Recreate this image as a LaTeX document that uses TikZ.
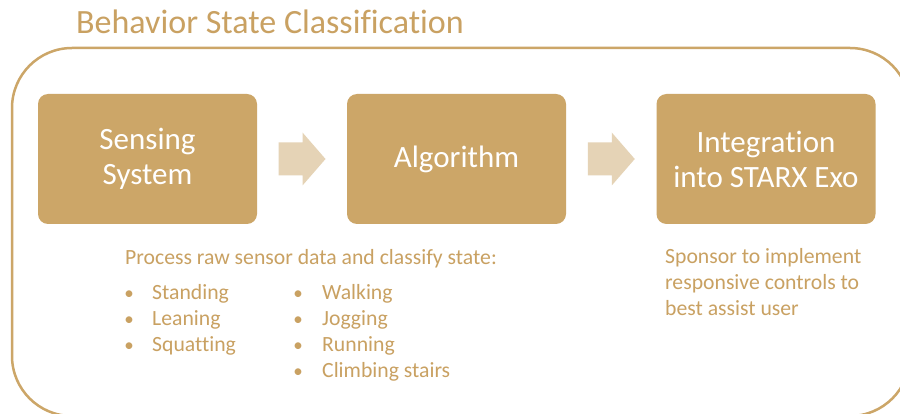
\documentclass[tikz,border=0pt]{standalone}
\usepackage{fontspec}
\setmainfont{Carlito}[Ligatures=NoCommon]
\usetikzlibrary{calc}
\definecolor{gold}{RGB}{204,166,104}
\definecolor{goldtxt}{RGB}{201,161,98}
\definecolor{lightgold}{RGB}{229,211,182}
\tikzset{
  stagebox/.style={fill=gold, draw=none, rounded corners=10pt, minimum width=219pt, minimum height=130pt,
    text=white, align=center, font=\fontsize{31}{35}\selectfont, inner sep=0pt},
  blockarrow/.style={fill=lightgold, draw=none},
  bodytext/.style={text=goldtxt, font=\fontsize{21.7}{26}\selectfont, inner sep=0pt, anchor=base west},
  bulletdot/.style={text=goldtxt, font=\fontsize{19}{26}\selectfont, inner sep=0pt, anchor=base}
}
\begin{document}
\begin{tikzpicture}[x=1pt,y=-1pt]
\useasboundingbox (0,0) rectangle (900,414);
\fill[white] (0,0) rectangle (900,414);
\node[text=goldtxt, font=\fontsize{34}{40}\selectfont, inner sep=0pt, anchor=base west] (title) at (76,34) {Behavior State Classification};
\begin{scope}
\clip (0,0) rectangle (900,414);
\draw[gold, line width=2.5pt, rounded corners=60pt] (12,48) rectangle (910,416);
\end{scope}
\node[stagebox] (s) at (147.5,159) {Sensing\\System};
\node[stagebox] (a) at (456.5,159) {Algorithm};
\node[stagebox] (i) at (766,159) {Integration\\into STARX Exo};
\coordinate (m1) at ($(s.east)!0.5!(a.west)$);
\coordinate (m2) at ($(a.east)!0.5!(i.west)$);
\foreach \m in {m1,m2}{
  \fill[blockarrow, shift={(\m)}] (-23.5,-16.5) -- (0.5,-16.5) -- (0.5,-26.5) -- (23.5,0) -- (0.5,26.5) -- (0.5,16.5) -- (-23.5,16.5) -- cycle;
}
\node[bodytext] (proc) at (125,265) {Process raw sensor data and classify state:};
\node[bulletdot] (b1) at (129,299) {•};
\node[bodytext] (t1) at (152,299) {Standing};
\node[bulletdot] (b2) at (129,325) {•};
\node[bodytext] (t2) at (152,325) {Leaning};
\node[bulletdot] (b3) at (129,351) {•};
\node[bodytext] (t3) at (152,351) {Squatting};
\node[bulletdot] (b4) at (298,299) {•};
\node[bodytext] (t4) at (322,299) {Walking};
\node[bulletdot] (b5) at (298,325) {•};
\node[bodytext] (t5) at (322,325) {Jogging};
\node[bulletdot] (b6) at (298,351) {•};
\node[bodytext] (t6) at (322,351) {Running};
\node[bulletdot] (b7) at (298,377) {•};
\node[bodytext] (t7) at (322,377) {Climbing stairs};
\node[bodytext] (sp1) at (665,264) {Sponsor to implement};
\node[bodytext] (sp2) at (665,290) {responsive controls to};
\node[bodytext] (sp3) at (665,316) {best assist user};
\end{tikzpicture}
\end{document}
